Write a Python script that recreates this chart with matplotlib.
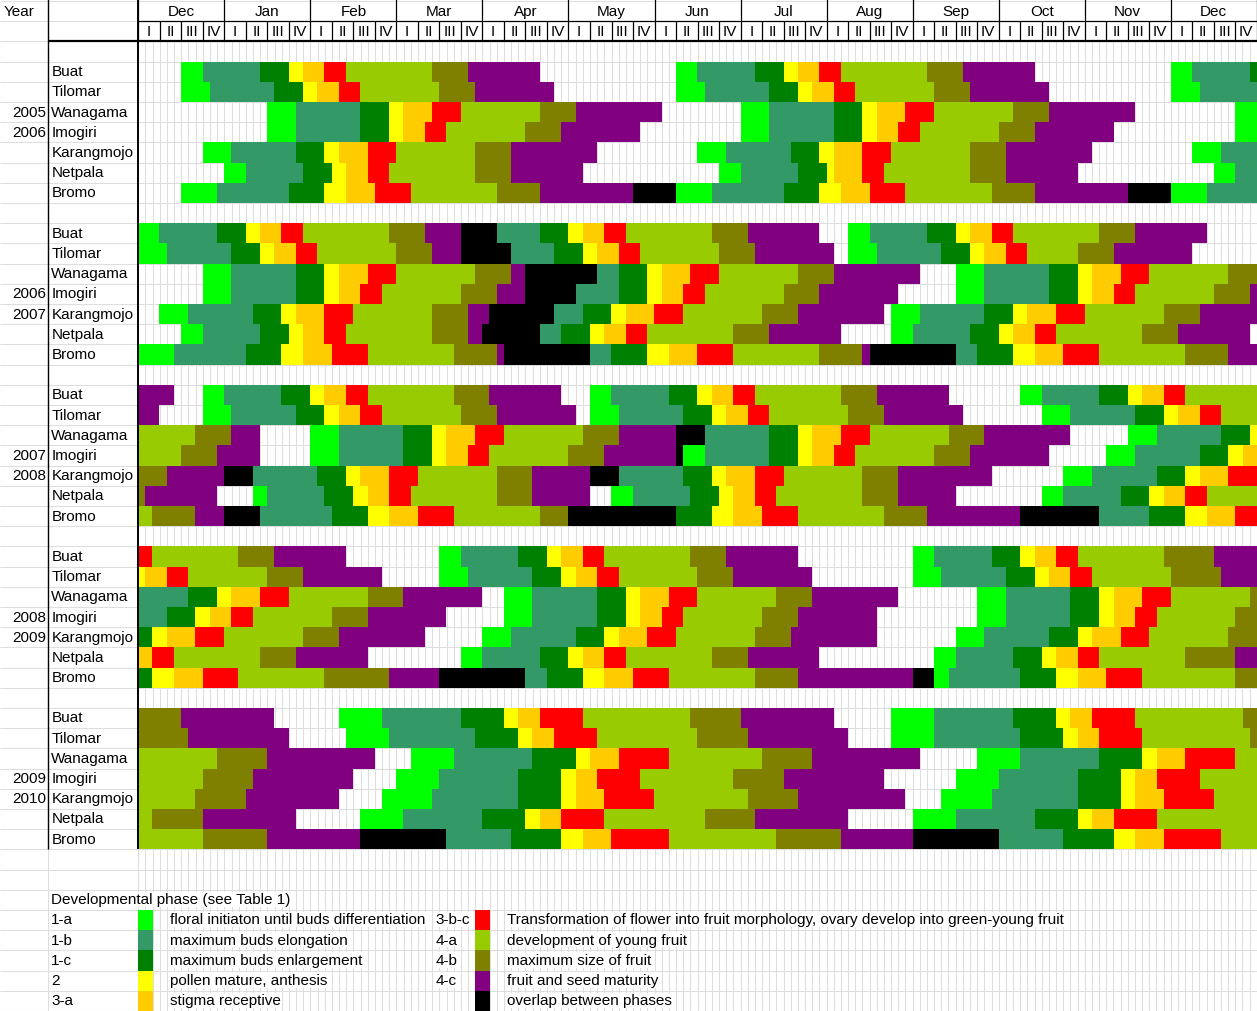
import numpy as np
import matplotlib
matplotlib.use("Agg")
import matplotlib.pyplot as plt
from matplotlib.colors import ListedColormap
from matplotlib.patches import Rectangle

plt.rcParams['font.family'] = ['Liberation Sans', 'DejaVu Sans']

# ---------------------------------------------------------------- data
months = ["Dec", "Jan", "Feb", "Mar", "Apr", "May", "Jun",
          "Jul", "Aug", "Sep", "Oct", "Nov", "Dec"]
weeks = ["I", "II", "III", "IV"]
sites = ["Buat", "Tilomar", "Wanagama", "Imogiri", "Karangmojo", "Netpala", "Bromo"]
season_years = [("2005", "2006"), ("2006", "2007"), ("2007", "2008"),
                ("2008", "2009"), ("2009", "2010")]
# the first season puts its years one row higher than the others
season_year_rows = [(2, 3), (3, 4), (3, 4), (3, 4), (3, 4)]

phase_keys = ["a", "b", "c", "2", "3", "r", "y", "o", "p", "x"]
phase_codes = ["1-a", "1-b", "1-c", "2", "3-a", "3-b-c", "4-a", "4-b", "4-c", ""]
phase_colors = ["#00FF00", "#339966", "#008000", "#FFFF00", "#FFCC00",
                "#FF0000", "#99CC00", "#808000", "#800080", "#000000"]
phase_desc = ["floral initiaton until buds differentiation",
              "maximum buds elongation",
              "maximum buds enlargement",
              "pollen mature, anthesis",
              "stigma receptive",
              "Transformation of flower into fruit morphology, ovary develop into green-young fruit",
              "development of young fruit",
              "maximum size of fruit",
              "fruit and seed maturity",
              "overlap between phases"]

# Each site row: "start:phase" tokens, start given in thirds of a week
# (3 per week, 12 per month, 156 from Dec to Dec); "." = no observation.
season_2005_2006 = [
    "0:. 6:a 9:b 17:c 21:2 23:3 26:r 29:y 41:o 46:p 56:. 75:a 78:b 86:c 90:2 92:3 95:r 98:y 110:o 115:p 125:. 144:a 147:b 155:c",
    "0:. 6:a 10:b 19:c 23:2 25:3 28:r 31:y 42:o 47:p 58:. 75:a 79:b 88:c 92:2 94:3 97:r 100:y 111:o 116:p 127:. 144:a 148:b",
    "0:. 18:a 22:b 31:c 35:2 37:3 41:r 45:y 56:o 61:p 73:. 84:a 88:b 97:c 101:2 103:3 107:r 111:y 122:o 127:p 139:. 153:a",
    "0:. 18:a 22:b 31:c 35:2 37:3 40:r 43:y 54:o 59:p 70:. 84:a 88:b 97:c 101:2 103:3 106:r 109:y 120:o 125:p 136:. 153:a",
    "0:. 9:a 13:b 22:c 26:2 28:3 32:r 36:y 47:o 52:p 64:. 78:a 82:b 91:c 95:2 97:3 101:r 105:y 116:o 121:p 133:. 147:a 151:b",
    "0:. 12:a 15:b 23:c 27:2 29:3 32:r 35:y 47:o 52:p 62:. 81:a 84:b 92:c 96:2 97:3 101:r 104:y 116:o 121:p 131:. 150:a 153:b",
    "0:. 6:a 11:b 21:c 26:2 29:3 33:r 38:y 50:o 56:p 69:x 75:a 80:b 90:c 95:2 98:3 102:r 107:y 119:o 125:p 138:x 144:a 149:b",
]
season_2006_2007 = [
    "0:a 3:b 11:c 15:2 17:3 20:r 23:y 35:o 40:p 45:x 50:b 56:c 60:2 62:3 65:r 68:y 80:o 85:p 95:. 99:a 102:b 110:c 114:2 116:3 119:r 122:y 134:o 139:p 149:.",
    "0:a 4:b 13:c 17:2 19:3 22:r 25:y 36:o 41:p 45:x 52:b 58:c 62:2 64:3 67:r 70:y 81:o 86:p 97:. 99:a 103:b 112:c 116:2 118:3 121:r 124:y 131:o 136:p 147:.",
    "0:. 9:a 13:b 22:c 26:2 28:3 32:r 36:y 47:o 52:p 54:x 64:b 67:c 71:2 73:3 77:r 81:y 92:o 97:p 109:. 114:a 118:b 127:c 131:2 133:3 137:r 141:y 152:o",
    "0:. 9:a 13:b 22:c 26:2 28:3 31:r 34:y 45:o 50:p 54:x 61:b 67:c 71:2 73:3 76:r 79:y 90:o 95:p 106:. 114:a 118:b 127:c 131:2 133:3 136:r 139:y 150:o 155:p",
    "0:. 3:a 7:b 16:c 20:2 22:3 26:r 30:y 41:o 46:p 49:x 58:b 62:c 66:2 68:3 72:r 76:y 87:o 92:p 104:. 105:a 109:b 118:c 122:2 124:3 128:r 132:y 143:o 148:p",
    "0:. 6:a 9:b 17:c 21:2 23:3 26:r 29:y 41:o 46:p 48:x 56:b 59:c 63:2 65:3 68:r 71:y 83:o 88:p 98:. 105:a 108:b 116:c 120:2 122:3 125:r 128:y 140:o 145:p 155:.",
    "0:a 5:b 15:c 20:2 23:3 27:r 32:y 44:o 50:p 51:x 63:b 66:c 71:2 74:3 78:r 83:y 95:o 101:p 102:x 114:b 117:c 122:2 125:3 129:r 134:y 146:o 152:p",
]
season_2007_2008 = [
    "0:p 5:. 9:a 12:b 20:c 24:2 26:3 29:r 32:y 44:o 49:p 59:. 63:a 66:b 74:c 78:2 80:3 83:r 86:y 98:o 103:p 113:. 123:a 126:b 134:c 138:2 140:3 143:r 146:y",
    "0:p 3:. 9:a 13:b 22:c 26:2 28:3 31:r 34:y 45:o 50:p 61:. 63:a 67:b 76:c 80:2 82:3 85:r 88:y 99:o 104:p 115:. 126:a 130:b 139:c 143:2 145:3 148:r 151:y",
    "0:y 8:o 13:p 17:. 24:a 28:b 37:c 41:2 43:3 47:r 51:y 62:o 67:p 75:x 79:b 88:c 92:2 94:3 98:r 102:y 113:o 118:p 130:. 138:a 142:b 151:c 155:2",
    "0:y 6:o 11:p 17:. 24:a 28:b 37:c 41:2 43:3 46:r 49:y 60:o 65:p 75:x 76:a 79:b 88:c 92:2 94:3 97:r 100:y 111:o 116:p 127:. 135:a 139:b 148:c 152:2 154:3",
    "0:o 4:p 12:x 16:b 25:c 29:2 31:3 35:r 39:y 50:o 55:p 63:x 67:b 76:c 80:2 82:3 86:r 90:y 101:o 106:p 119:. 129:a 133:b 142:c 146:2 148:3 152:r",
    "0:o 1:p 11:. 16:a 18:b 26:c 30:2 32:3 35:r 38:y 50:o 55:p 63:. 66:a 69:b 77:c 81:2 83:3 86:r 89:y 101:o 106:p 114:. 126:a 129:b 137:c 141:2 143:3 146:r 149:y",
    "0:y 2:o 8:p 12:x 17:b 27:c 32:2 35:3 39:r 44:y 56:o 60:x 75:c 80:2 83:3 87:r 92:y 104:o 110:p 123:x 134:b 141:c 146:2 149:3 153:r",
]
season_2008_2009 = [
    "0:r 2:y 14:o 19:p 29:. 42:a 45:b 53:c 57:2 59:3 62:r 65:y 77:o 82:p 92:. 108:a 111:b 119:c 123:2 125:3 128:r 131:y 143:o 150:p",
    "0:2 1:3 4:r 7:y 18:o 23:p 34:. 42:a 46:b 55:c 59:2 61:3 64:r 67:y 78:o 83:p 94:. 108:a 112:b 121:c 125:2 127:3 130:r 133:y 144:o 151:p",
    "0:b 7:c 11:2 13:3 17:r 21:y 32:o 37:p 48:. 51:a 55:b 64:c 68:2 70:3 74:r 78:y 89:o 94:p 106:. 117:a 121:b 130:c 134:2 136:3 140:r 144:y 155:o",
    "0:b 4:c 8:2 10:3 13:r 16:y 27:o 32:p 43:. 51:a 55:b 64:c 68:2 70:3 73:r 76:y 87:o 92:p 103:. 117:a 121:b 130:c 134:2 136:3 139:r 142:y 153:o",
    "0:c 2:2 4:3 8:r 12:y 23:o 28:p 40:. 48:a 52:b 61:c 65:2 67:3 71:r 75:y 86:o 91:p 103:. 114:a 118:b 127:c 131:2 133:3 137:r 141:y 152:o",
    "0:3 2:r 5:y 17:o 22:p 32:. 45:a 48:b 56:c 60:2 62:3 65:r 68:y 80:o 85:p 95:. 111:a 114:b 122:c 126:2 128:3 131:r 134:y 146:o 153:p",
    "0:c 2:2 5:3 9:r 14:y 26:o 35:p 42:x 54:b 57:c 62:2 65:3 69:r 74:y 86:o 92:p 108:x 111:a 113:b 123:c 128:2 131:3 135:r 140:y 153:o",
]
season_2009_2010 = [
    "0:o 6:p 19:. 28:a 34:b 45:c 51:2 53:3 56:r 62:y 77:o 84:p 97:. 105:a 111:b 122:c 128:2 130:3 133:r 139:y 154:o",
    "0:o 7:p 21:. 29:a 35:b 47:c 53:2 55:3 58:r 64:y 78:o 85:p 99:. 105:a 111:b 123:c 129:2 131:3 134:r 140:y 155:o",
    "0:y 11:o 18:p 33:. 38:a 44:b 55:c 61:2 63:3 67:r 74:y 87:o 94:p 109:. 117:a 123:b 134:c 140:2 142:3 146:r 153:y",
    "0:y 9:o 16:p 30:. 36:a 42:b 53:c 59:2 61:3 64:r 70:y 83:o 90:p 104:. 114:a 120:b 131:c 137:2 139:3 142:r 148:y",
    "0:y 8:o 15:p 28:. 34:a 41:b 53:c 59:2 61:3 65:r 72:y 85:o 92:p 107:. 112:a 119:b 131:c 137:2 139:3 143:r 150:y",
    "0:y 2:o 9:p 22:. 31:a 37:b 48:c 54:2 56:3 59:r 65:y 79:o 86:p 99:. 108:a 114:b 125:c 131:2 133:3 136:r 142:y",
    "0:y 9:o 18:p 31:x 43:b 52:c 59:2 62:3 66:r 74:y 89:o 98:p 108:x 120:b 129:c 136:2 139:3 143:r 151:y",
]
seasons = [season_2005_2006, season_2006_2007, season_2007_2008,
           season_2008_2009, season_2009_2010]

# ---------------------------------------------------------------- sheet geometry
N_COLS = 12 * len(months)          # thirds of a week
N_ROWS = 50                        # spreadsheet rows shown
CELL_PX = 7.1697                   # width of one narrow column in pixels
X_MIN = -138.3 / CELL_PX           # left edge of the "Year" column
X_SITE = -90.0 / CELL_PX           # left edge of the site column
X_MAX = N_COLS + 0.03
FIRST_DATA_ROW = 3
BLOCK_STEP = 8
TY = 0.47                          # vertical text position inside a row


def parse_row(spec):
    row = np.full(N_COLS, np.nan)
    tokens = [t.split(":") for t in spec.split()]
    for i, (start, key) in enumerate(tokens):
        s = int(start)
        e = int(tokens[i + 1][0]) if i + 1 < len(tokens) else N_COLS
        if key != ".":
            row[s:e] = phase_keys.index(key)
    return row


grid = np.full((N_ROWS, N_COLS), np.nan)
for b, season in enumerate(seasons):
    for k, spec in enumerate(season):
        grid[FIRST_DATA_ROW + BLOCK_STEP * b + k] = parse_row(spec)

fig = plt.figure(figsize=(12.57, 10.12), dpi=100)
ax = fig.add_axes([0, 0, 1, 1])
ax.set_axis_off()

GRID_C = "#dedede"
FS = 11

# spreadsheet gridlines
ax.hlines(np.arange(0, N_ROWS + 1), X_MIN, X_MAX, color=GRID_C, lw=0.75, zorder=1)
ax.vlines(np.arange(0, N_COLS + 1), 2, N_ROWS, color=GRID_C, lw=0.75, zorder=1)
ax.vlines([X_SITE], 0, N_ROWS, color=GRID_C, lw=0.75, zorder=1)

# phase cells
cmap = ListedColormap(phase_colors)
ax.imshow(np.ma.masked_invalid(grid), cmap=cmap, vmin=-0.5, vmax=len(phase_colors) - 0.5,
          extent=(0, N_COLS, N_ROWS, 0), interpolation="nearest", aspect="auto", zorder=2)

# header borders
ax.vlines(np.arange(0, N_COLS + 1, 12), -0.2, 2, color="black", lw=0.9, zorder=4)
wk = [x for x in range(3, N_COLS, 3) if x % 12]
ax.vlines(wk, 1, 2, color="black", lw=0.9, zorder=4)
ax.hlines(1, 0, X_MAX, color="black", lw=0.9, zorder=4)
ax.hlines(2, X_SITE, X_MAX, color="black", lw=1.6, zorder=4)
ax.vlines(0, -0.2, 42, color="black", lw=1.4, zorder=4)
ax.vlines(X_SITE, -0.2, 42, color="black", lw=1.0, zorder=4)

for m, name in enumerate(months):
    ax.text(12 * m + 6, TY + 0.02, name, ha="center", va="center", fontsize=FS, zorder=5)
    for w, lab in enumerate(weeks):
        ax.text(12 * m + 3 * w + 1.5, 1 + TY + 0.02, lab, ha="center", va="center",
                fontsize=FS, zorder=5)

pad = 3.0 / CELL_PX
ax.text(X_MIN + 4 / CELL_PX, TY + 0.02, "Year", ha="left", va="center", fontsize=FS, zorder=5)

for b in range(len(seasons)):
    top = FIRST_DATA_ROW + BLOCK_STEP * b
    for k, site in enumerate(sites):
        ax.text(X_SITE + pad, top + k + TY, site, ha="left", va="center",
                fontsize=FS, zorder=5)
    for yr, r in zip(season_years[b], season_year_rows[b]):
        ax.text(X_SITE - 2 / CELL_PX, top + r + TY, yr, ha="right", va="center",
                fontsize=FS, zorder=5)

# legend block
bb = dict(facecolor="white", edgecolor="none", pad=0.6)
ax.text(X_SITE + pad, 44 + TY, "Developmental phase (see Table 1)", ha="left",
        va="center", fontsize=FS, zorder=5, bbox=bb)
legend_cols = [(X_SITE, 0, 4), (41, 47, 51)]
for i in range(len(phase_codes)):
    col, row = divmod(i, 5)
    code_x, sw_x, desc_x = legend_cols[col]
    r = 45 + row
    ax.add_patch(Rectangle((sw_x, r), 2, 1, facecolor=phase_colors[i],
                           edgecolor="none", zorder=3))
    if phase_codes[i]:
        ax.text(code_x + pad, r + TY, phase_codes[i], ha="left", va="center",
                fontsize=FS, zorder=5, bbox=bb)
    ax.text(desc_x + pad, r + TY, phase_desc[i], ha="left", va="center",
            fontsize=FS, zorder=5, bbox=bb)

ax.set_xlim(X_MIN, X_MAX)
ax.set_ylim(N_ROWS, -0.1)

fig.savefig("out.png", dpi=100, facecolor="white")
